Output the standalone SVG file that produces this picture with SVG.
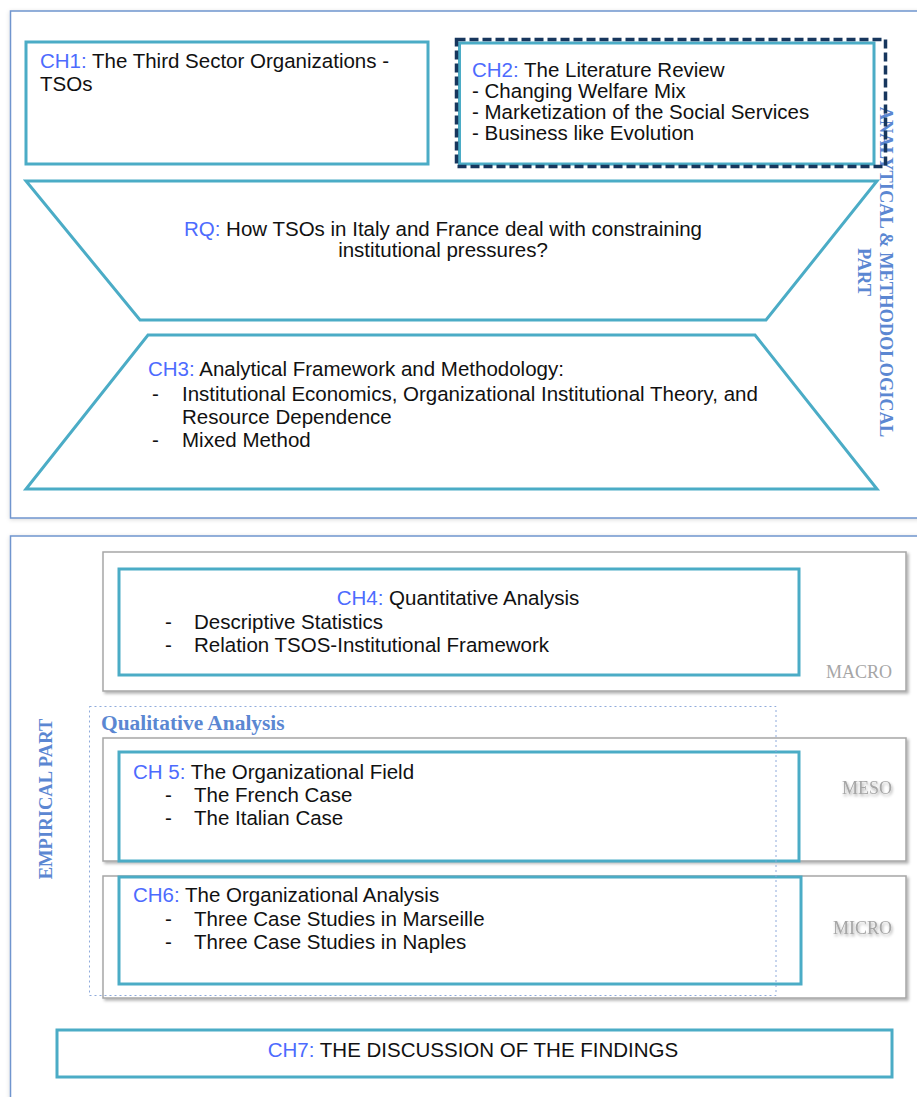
<svg xmlns="http://www.w3.org/2000/svg" width="917" height="1097" viewBox="0 0 917 1097">
<defs>
<filter id="sh" x="-5%" y="-5%" width="110%" height="115%">
<feDropShadow dx="2" dy="2" stdDeviation="1.5" flood-color="#000" flood-opacity="0.3"/>
</filter>
<filter id="fs" x="-5%" y="-5%" width="110%" height="110%">
<feDropShadow dx="0" dy="1" stdDeviation="2" flood-color="#000" flood-opacity="0.15"/>
</filter>
<filter id="ts" x="-20%" y="-40%" width="140%" height="180%">
<feDropShadow dx="1" dy="2" stdDeviation="1.5" flood-color="#000" flood-opacity="0.35"/>
</filter>
</defs>
<style>
.frame{fill:#fff;stroke:#6F95CE;stroke-width:1.5}
.teal{fill:#fff;stroke:#4BACC6;stroke-width:3}
.gray{fill:#fff;stroke:#A6A6A6;stroke-width:1.5}
.t{font-family:"Liberation Sans",Arial,sans-serif;font-size:20.5px;fill:#111}
.ch{fill:#4D6BFE}
.side{font-family:"Liberation Serif","Times New Roman",serif;font-weight:bold;fill:#5B87D2}
.lvl{font-family:"Liberation Serif","Times New Roman",serif;font-size:18px;fill:#A6A6A6}
</style>
<rect width="917" height="1097" fill="#fff"/>

<g id="frame-analytical">
<rect class="frame" x="10.5" y="11" width="920" height="507" filter="url(#fs)"/>
<text class="side" font-size="18.4" text-anchor="middle" transform="translate(880,272) rotate(90)">ANALYTICAL &amp; METHODOLOGICAL</text>
<text class="side" font-size="18.4" text-anchor="middle" transform="translate(858,272) rotate(90)">PART</text>
</g>

<g id="frame-empirical">
<rect class="frame" x="10.5" y="536" width="920" height="580" filter="url(#fs)"/>
<text class="side" font-size="18.6" text-anchor="middle" transform="translate(52,799) rotate(-90)">EMPIRICAL PART</text>
</g>

<g id="ch1">
<rect class="teal" x="26" y="42" width="402" height="122"/>
<text class="t" x="40" y="68"><tspan class="ch">CH1:</tspan> The Third Sector Organizations -</text>
<text class="t" x="40" y="91">TSOs</text>
</g>

<g id="ch2">
<rect class="teal" x="459.5" y="43" width="414.5" height="121"/>
<rect x="456.5" y="39.5" width="429" height="127" fill="none" stroke="#17365D" stroke-width="3.5" stroke-dasharray="9,4"/>
<text class="t" x="472" y="77"><tspan class="ch">CH2:</tspan> The Literature Review</text>
<text class="t" x="472" y="98">- Changing Welfare Mix</text>
<text class="t" x="472" y="119">- Marketization of the Social Services</text>
<text class="t" x="472" y="140">- Business like Evolution</text>
</g>

<g id="rq">
<polygon class="teal" points="26,181 877,181 766,320 140,320"/>
<text class="t" x="443" y="236" text-anchor="middle"><tspan class="ch">RQ:</tspan> How TSOs in Italy and France deal with constraining</text>
<text class="t" x="443" y="257" text-anchor="middle">institutional pressures?</text>
</g>

<g id="ch3">
<polygon class="teal" points="148,335 755,335 877,489 26,489"/>
<text class="t" x="148" y="376"><tspan class="ch">CH3:</tspan> Analytical Framework and Methodology:</text>
<text class="t" x="152" y="401">-</text>
<text class="t" x="182" y="401">Institutional Economics, Organizational Institutional Theory, and</text>
<text class="t" x="182" y="424">Resource Dependence</text>
<text class="t" x="152" y="447">-</text>
<text class="t" x="182" y="447">Mixed Method</text>
</g>

<g id="macro">
<rect class="gray" x="103" y="552" width="803" height="139" filter="url(#sh)"/>
<text class="lvl" x="892" y="678" text-anchor="end">MACRO</text>
</g>

<g id="ch4">
<rect class="teal" x="119" y="569" width="680" height="106"/>
<text class="t" x="458" y="605" text-anchor="middle"><tspan class="ch">CH4:</tspan> Quantitative Analysis</text>
<text class="t" x="165" y="629">-</text>
<text class="t" x="194" y="629">Descriptive Statistics</text>
<text class="t" x="165" y="652">-</text>
<text class="t" x="194" y="652">Relation TSOS-Institutional Framework</text>
</g>

<g id="meso">
<rect class="gray" x="103" y="738" width="803" height="123" filter="url(#sh)"/>
<text class="lvl" x="892" y="794" text-anchor="end" filter="url(#ts)">MESO</text>
</g>

<g id="micro">
<rect class="gray" x="103" y="876" width="803" height="122" filter="url(#sh)"/>
<text class="lvl" x="892" y="934" text-anchor="end" filter="url(#ts)">MICRO</text>
</g>

<g id="ch5">
<rect class="teal" x="119" y="752" width="680" height="109"/>
<text class="t" x="133" y="779"><tspan class="ch">CH 5:</tspan> The Organizational Field</text>
<text class="t" x="165" y="802">-</text>
<text class="t" x="194" y="802">The French Case</text>
<text class="t" x="165" y="825">-</text>
<text class="t" x="194" y="825">The Italian Case</text>
</g>

<g id="ch6">
<rect class="teal" x="119" y="877" width="682" height="107"/>
<text class="t" x="133" y="902"><tspan class="ch">CH6:</tspan> The Organizational Analysis</text>
<text class="t" x="165" y="926">-</text>
<text class="t" x="194" y="926">Three Case Studies in Marseille</text>
<text class="t" x="165" y="949">-</text>
<text class="t" x="194" y="949">Three Case Studies in Naples</text>
</g>

<g id="qualitative">
<rect x="89.5" y="706.5" width="686.5" height="289" fill="none" stroke="#8EAADB" stroke-width="1" stroke-dasharray="2,3"/>
<text class="side" font-size="21.4" x="101" y="730">Qualitative Analysis</text>
</g>

<g id="ch7">
<rect class="teal" x="57" y="1030" width="835" height="47"/>
<text class="t" x="473" y="1057" text-anchor="middle"><tspan class="ch">CH7:</tspan> THE DISCUSSION OF THE FINDINGS</text>
</g>

<g id="connectors"/>
</svg>
